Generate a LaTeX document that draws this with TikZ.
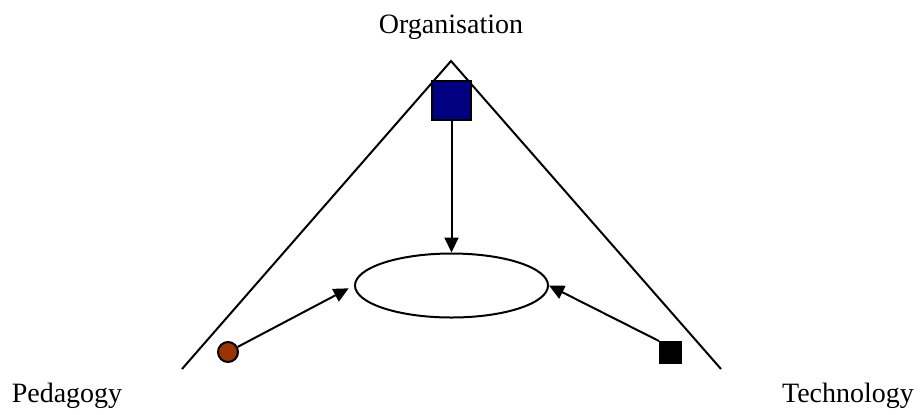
\documentclass[tikz,border=0pt]{standalone}
\usepackage{fontspec}
\setmainfont{Liberation Serif}
\usetikzlibrary{shapes.geometric,arrows.meta}
\definecolor{orgblue}{RGB}{0,0,128}
\definecolor{pedbrown}{RGB}{153,51,0}
\begin{document}
\begin{tikzpicture}[x=0.5pt,y=-0.5pt,line width=1pt,
    >={Triangle[length=7.5pt,width=7pt]},
    lbl/.style={font=\fontsize{14}{16}\selectfont, inner sep=0pt, anchor=base}]
    \useasboundingbox (0,0) rectangle (920,414);
    \draw
    (451,61)coordinate(top)
    (182,369)coordinate(l)
    (721,369)coordinate(r)
    (451,33)node[lbl](org){Organisation}
    (67,402)node[lbl](ped){Pedagogy}
    (848,402)node[lbl](tec){Technology}
    ;
    \draw (l)--(top)--(r);
    \node[rectangle, draw, fill=orgblue, minimum size=19.5pt, inner sep=0](sq) at (451.5,100.5){};
    \node[ellipse, draw, minimum width=96.5pt, minimum height=32pt, inner sep=0](e) at (451.5,285.5){};
    \node[circle, draw, fill=pedbrown, minimum size=10pt, inner sep=0](c) at (228,352){};
    \node[rectangle, draw, fill=black, minimum size=10.5pt, inner sep=0](t) at (670.5,352.5){};
    \draw[->](sq)--(e.north);
    \draw[->,shorten >=3pt](c)--(e.west);
    \draw[->](t.north west)--(e.east);
\end{tikzpicture}
\end{document}
